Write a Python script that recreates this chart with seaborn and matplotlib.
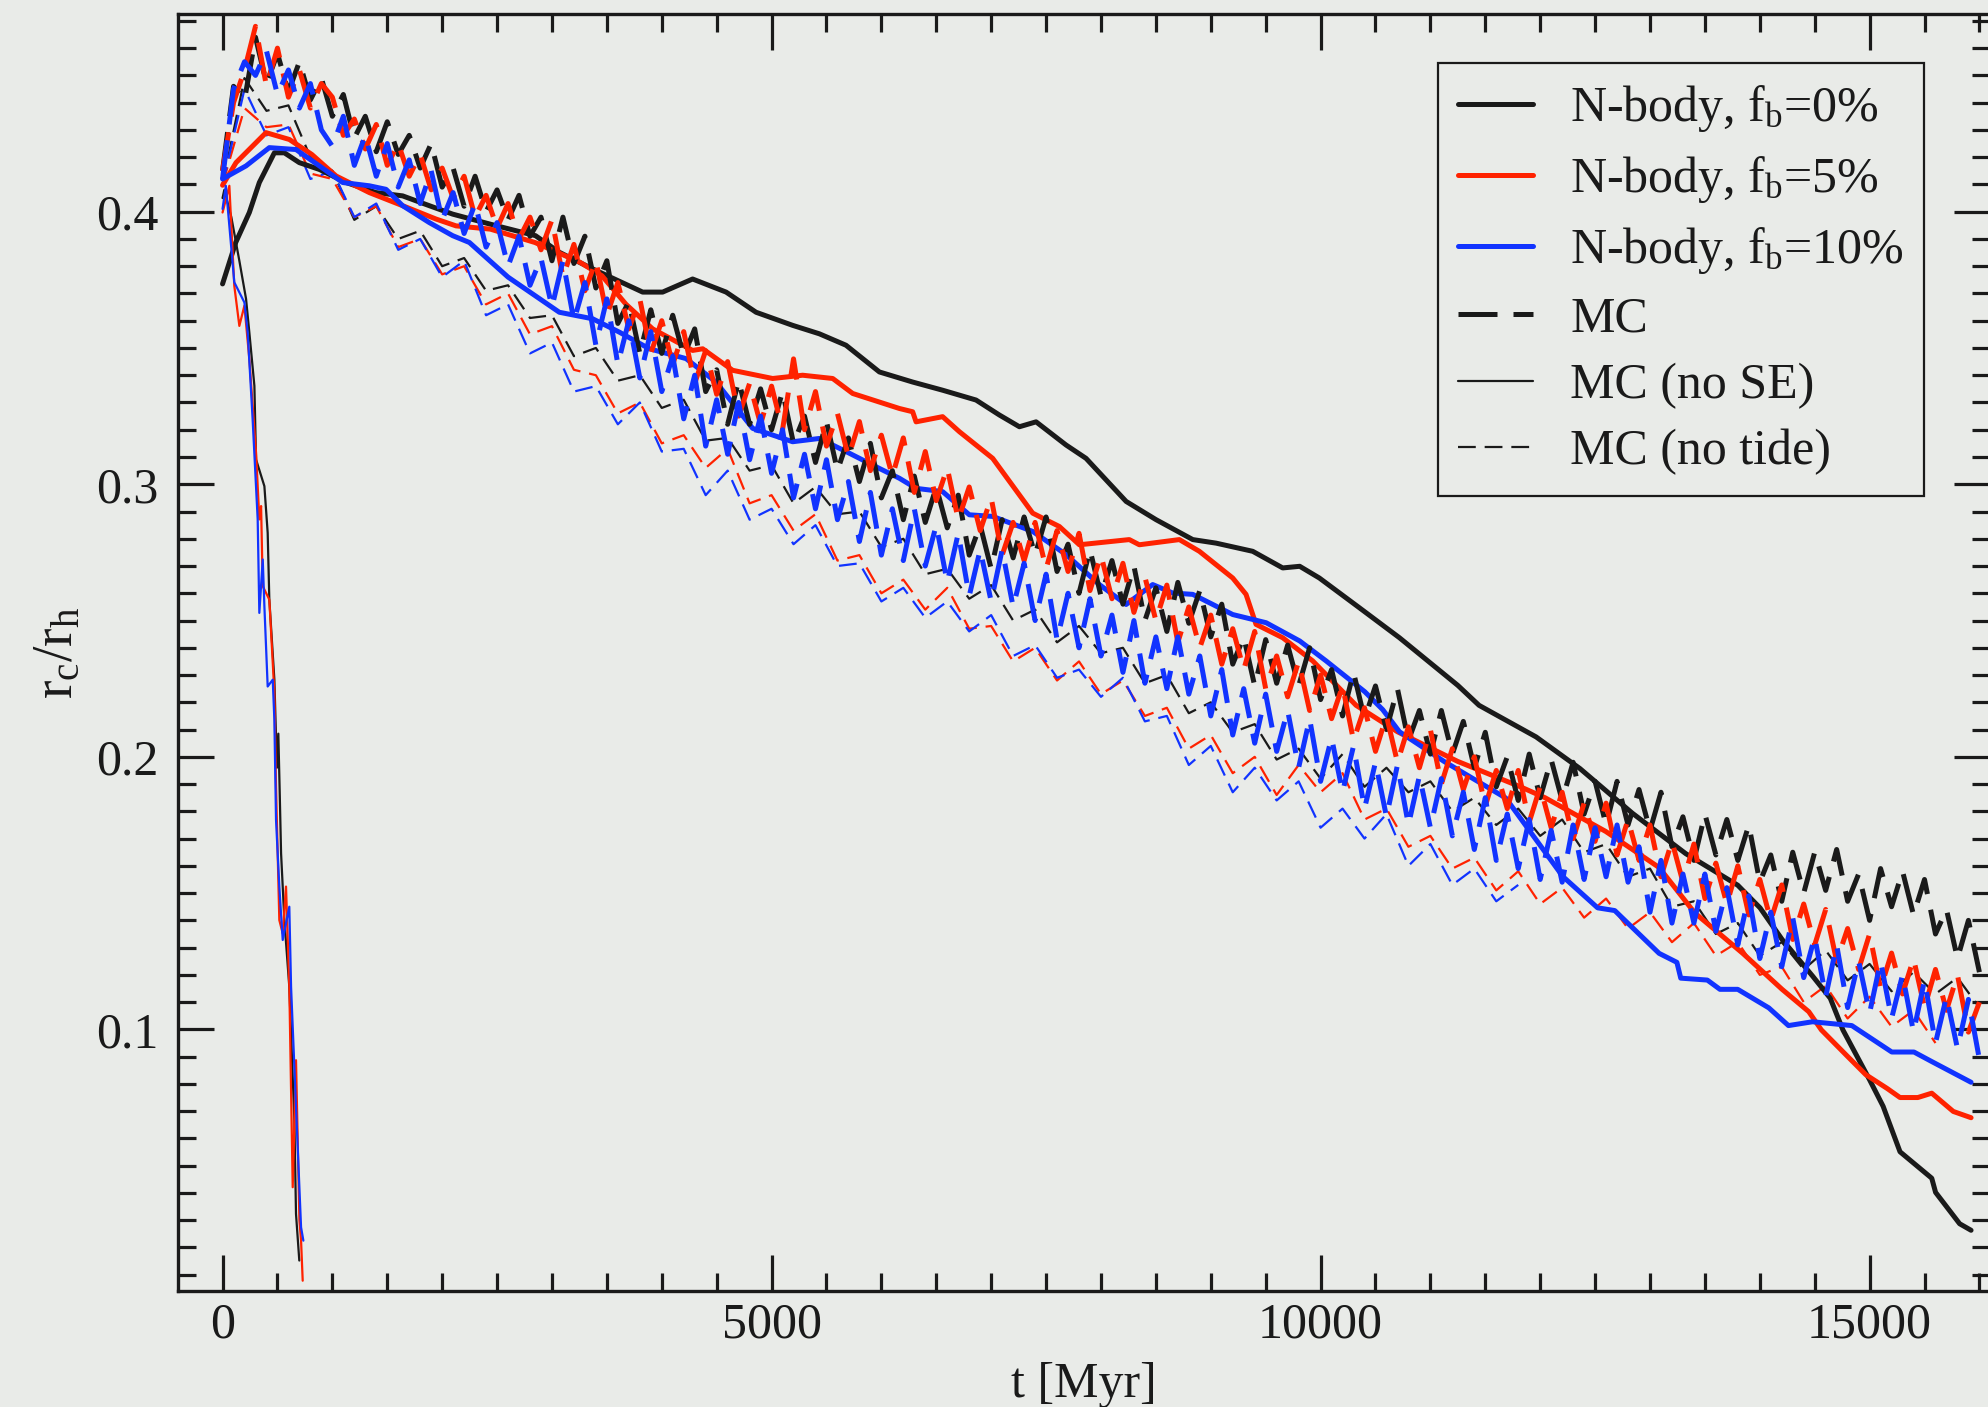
import numpy as np
import matplotlib
matplotlib.use('Agg')
import matplotlib.pyplot as plt
from matplotlib.lines import Line2D
from matplotlib.ticker import MultipleLocator
import seaborn as sns

# N-body runs: time [Myr] and r_c/r_h
nb0_t = [0, 120, 244, 335, 472, 563, 699, 882, 1125, 1398,
         1640, 1883, 2096, 2440, 2850, 3067, 3371, 3826, 4008, 4281,
         4586, 4859, 5192, 5435, 5678, 5982, 6285, 6558, 6862, 7075,
         7257, 7409, 7682, 7864, 8229, 8502, 8836, 9048, 9382, 9655,
         9810, 9989, 10353, 10718, 11250, 11443, 11963, 12362, 12840, 13325,
         13799, 14002, 14203, 14480, 14642, 14757, 15000, 15123, 15277, 15566,
         15601, 15820, 15924]
nb0_r = [0.3735, 0.3887, 0.3997, 0.4107, 0.4216, 0.4216, 0.418, 0.4155, 0.4107, 0.407,
         0.4058, 0.4022, 0.3991, 0.3954, 0.3912, 0.3851, 0.379, 0.3705, 0.3705, 0.3753,
         0.3705, 0.3631, 0.3583, 0.3552, 0.351, 0.3412, 0.3375, 0.3345, 0.3309, 0.3254,
         0.3211, 0.3229, 0.3144, 0.3095, 0.2937, 0.287, 0.2797, 0.2784, 0.2754, 0.2693,
         0.2699, 0.2656, 0.2547, 0.2437, 0.2262, 0.2189, 0.2073, 0.1957, 0.1793, 0.1645,
         0.1529, 0.1446, 0.133, 0.1196, 0.1114, 0.0998, 0.0815, 0.0718, 0.0551, 0.0454,
         0.0402, 0.0287, 0.0263]

nb5_t = [0, 123, 396, 608, 813, 1034, 1337, 1640, 1944, 2126,
         2439, 2845, 3252, 3455, 3675, 3917, 4281, 4373, 4646, 5010,
         5283, 5557, 5739, 6164, 6285, 6316, 6558, 6710, 7014, 7378,
         7621, 7803, 8258, 8349, 8714, 8896, 9200, 9321, 9412, 9655,
         9928, 10323, 10700, 11250, 11820, 12044, 12598, 13083, 13406, 13845,
         14203, 14446, 14561, 14804, 14965, 15161, 15277, 15439, 15566, 15762,
         15924]
nb5_r = [0.4097, 0.418, 0.429, 0.4265, 0.421, 0.4131, 0.407, 0.4022, 0.3973, 0.3948,
         0.3936, 0.3887, 0.3815, 0.3765, 0.366, 0.357, 0.3491, 0.3497, 0.3418, 0.3388,
         0.34, 0.3388, 0.3333, 0.3278, 0.3266, 0.3229, 0.3248, 0.3193, 0.3095, 0.2894,
         0.2845, 0.2778, 0.2797, 0.2778, 0.2797, 0.2754, 0.2656, 0.2596, 0.2486, 0.2437,
         0.2352, 0.2189, 0.2092, 0.1983, 0.189, 0.185, 0.1726, 0.1594, 0.1428, 0.1279,
         0.1147, 0.1065, 0.0998, 0.0899, 0.0834, 0.0783, 0.075, 0.075, 0.0766, 0.0699,
         0.0676]

nb10_t = [0, 214, 426, 669, 882, 1094, 1337, 1489, 1640, 1883,
          2096, 2248, 2600, 3067, 3371, 3614, 3887, 4221, 4494, 4828,
          5192, 5435, 5678, 5982, 6164, 6316, 6558, 6801, 7014, 7378,
          7682, 7985, 8229, 8471, 8653, 8836, 9200, 9504, 9810, 10050,
          10402, 10566, 10718, 11125, 11686, 12206, 12523, 12679, 13083, 13245,
          13280, 13522, 13637, 13799, 14082, 14261, 14480, 14838, 15202, 15404,
          15566, 15924]
nb10_r = [0.412, 0.4168, 0.4235, 0.4228, 0.4168, 0.4107, 0.4095, 0.4082, 0.4022, 0.396,
          0.3912, 0.3887, 0.376, 0.3631, 0.3607, 0.3558, 0.3497, 0.3461, 0.3375, 0.3205,
          0.3156, 0.3168, 0.312, 0.3058, 0.3022, 0.2985, 0.2973, 0.2888, 0.2882, 0.2827,
          0.2742, 0.2632, 0.2559, 0.2632, 0.2601, 0.2596, 0.2522, 0.2492, 0.2425, 0.2352,
          0.2239, 0.2173, 0.2092, 0.1983, 0.1849, 0.1561, 0.1446, 0.1436, 0.1279, 0.1246,
          0.1188, 0.1181, 0.1147, 0.1147, 0.1079, 0.1014, 0.1028, 0.1014, 0.0917, 0.0917,
          0.0882, 0.0806]

# MC runs, one snapshot every 100 Myr (0 ... 16000)
t_mc = np.arange(0, 16001, 100)

mc0 = [0.415, 0.446, 0.441, 0.464, 0.447, 0.458, 0.444, 0.455, 0.441, 0.449,
       0.435, 0.443, 0.427, 0.435, 0.422, 0.433, 0.421, 0.428, 0.416, 0.425,
       0.409, 0.416, 0.402, 0.413, 0.400, 0.408, 0.397, 0.406, 0.391, 0.398,
       0.382, 0.398, 0.381, 0.391, 0.372, 0.382, 0.359, 0.367, 0.348, 0.364,
       0.348, 0.362, 0.347, 0.357, 0.334, 0.342, 0.322, 0.338, 0.322, 0.335,
       0.320, 0.334, 0.315, 0.325, 0.308, 0.323, 0.305, 0.317, 0.301, 0.315,
       0.295, 0.305, 0.287, 0.303, 0.286, 0.299, 0.284, 0.296, 0.274, 0.285,
       0.269, 0.287, 0.273, 0.288, 0.274, 0.288, 0.268, 0.278, 0.260, 0.276,
       0.259, 0.272, 0.256, 0.270, 0.250, 0.262, 0.246, 0.264, 0.249, 0.261,
       0.244, 0.256, 0.234, 0.244, 0.226, 0.243, 0.227, 0.241, 0.226, 0.240,
       0.221, 0.232, 0.215, 0.231, 0.214, 0.226, 0.210, 0.225, 0.206, 0.217,
       0.201, 0.217, 0.201, 0.213, 0.196, 0.209, 0.189, 0.200, 0.184, 0.201,
       0.185, 0.199, 0.184, 0.198, 0.179, 0.191, 0.175, 0.191, 0.175, 0.188,
       0.173, 0.187, 0.167, 0.178, 0.162, 0.179, 0.164, 0.177, 0.162, 0.175,
       0.154, 0.164, 0.147, 0.165, 0.150, 0.165, 0.151, 0.166, 0.147, 0.157,
       0.140, 0.159, 0.145, 0.158, 0.142, 0.155, 0.135, 0.144, 0.126, 0.140,
       0.121]
mc5 = [0.415, 0.440, 0.452, 0.468, 0.446, 0.460, 0.442, 0.452, 0.438, 0.447,
       0.442, 0.428, 0.434, 0.423, 0.432, 0.417, 0.425, 0.413, 0.421, 0.408,
       0.416, 0.405, 0.413, 0.398, 0.406, 0.394, 0.403, 0.390, 0.398, 0.386,
       0.397, 0.376, 0.388, 0.371, 0.382, 0.362, 0.374, 0.357, 0.368, 0.348,
       0.360, 0.344, 0.356, 0.337, 0.349, 0.333, 0.345, 0.325, 0.337, 0.322,
       0.336, 0.320, 0.346, 0.320, 0.334, 0.314, 0.326, 0.310, 0.323, 0.305,
       0.318, 0.303, 0.317, 0.297, 0.312, 0.294, 0.306, 0.287, 0.299, 0.283,
       0.295, 0.274, 0.286, 0.272, 0.286, 0.269, 0.283, 0.268, 0.282, 0.261,
       0.274, 0.258, 0.271, 0.253, 0.266, 0.250, 0.263, 0.242, 0.255, 0.240,
       0.252, 0.234, 0.247, 0.232, 0.246, 0.225, 0.237, 0.222, 0.235, 0.217,
       0.230, 0.214, 0.226, 0.206, 0.218, 0.202, 0.215, 0.198, 0.211, 0.196,
       0.210, 0.190, 0.203, 0.188, 0.200, 0.182, 0.195, 0.181, 0.195, 0.176,
       0.189, 0.174, 0.187, 0.170, 0.183, 0.169, 0.183, 0.164, 0.177, 0.162,
       0.175, 0.156, 0.169, 0.154, 0.168, 0.148, 0.161, 0.146, 0.160, 0.142,
       0.155, 0.140, 0.153, 0.133, 0.146, 0.131, 0.144, 0.125, 0.137, 0.122,
       0.135, 0.115, 0.128, 0.113, 0.126, 0.108, 0.122, 0.107, 0.120, 0.099,
       0.110]
mc10 = [0.412, 0.445, 0.455, 0.450, 0.459, 0.443, 0.452, 0.438, 0.447, 0.430,
        0.424, 0.435, 0.417, 0.428, 0.413, 0.425, 0.409, 0.419, 0.403, 0.415,
        0.397, 0.407, 0.392, 0.403, 0.387, 0.396, 0.380, 0.391, 0.373, 0.383,
        0.365, 0.382, 0.360, 0.374, 0.351, 0.368, 0.344, 0.360, 0.339, 0.356,
        0.334, 0.347, 0.324, 0.340, 0.314, 0.331, 0.311, 0.330, 0.309, 0.325,
        0.304, 0.320, 0.295, 0.311, 0.291, 0.309, 0.287, 0.301, 0.279, 0.297,
        0.274, 0.291, 0.272, 0.291, 0.270, 0.285, 0.264, 0.282, 0.259, 0.276,
        0.257, 0.276, 0.255, 0.271, 0.250, 0.267, 0.243, 0.260, 0.240, 0.258,
        0.237, 0.252, 0.231, 0.250, 0.227, 0.244, 0.225, 0.244, 0.223, 0.237,
        0.215, 0.232, 0.208, 0.225, 0.205, 0.223, 0.202, 0.217, 0.196, 0.214,
        0.191, 0.207, 0.187, 0.204, 0.181, 0.198, 0.178, 0.197, 0.175, 0.193,
        0.174, 0.192, 0.171, 0.187, 0.166, 0.185, 0.162, 0.179, 0.159, 0.177,
        0.155, 0.173, 0.154, 0.175, 0.155, 0.174, 0.156, 0.175, 0.154, 0.167,
        0.143, 0.162, 0.139, 0.157, 0.139, 0.157, 0.136, 0.152, 0.131, 0.149,
        0.126, 0.143, 0.123, 0.141, 0.119, 0.134, 0.112, 0.131, 0.108, 0.125,
        0.106, 0.125, 0.104, 0.120, 0.099, 0.118, 0.095, 0.112, 0.093, 0.111,
        0.089]

# MC without tidal field, one snapshot every 200 Myr
t_nt = np.arange(0, 16001, 200)
notide0 = [0.410, 0.449, 0.437, 0.439, 0.420, 0.415, 0.397, 0.402, 0.390, 0.393,
           0.380, 0.383, 0.371, 0.373, 0.361, 0.362, 0.347, 0.350, 0.338, 0.340,
           0.328, 0.331, 0.316, 0.317, 0.305, 0.307, 0.293, 0.299, 0.289, 0.290,
           0.277, 0.280, 0.267, 0.269, 0.258, 0.263, 0.250, 0.254, 0.242, 0.248,
           0.238, 0.240, 0.227, 0.230, 0.216, 0.220, 0.209, 0.212, 0.199, 0.203,
           0.192, 0.201, 0.189, 0.196, 0.187, 0.191, 0.180, 0.185, 0.175, 0.181,
           0.171, 0.177, 0.165, 0.168, 0.156, 0.159, 0.145, 0.147, 0.135, 0.139,
           0.127, 0.132, 0.122, 0.129, 0.118, 0.124, 0.114, 0.121, 0.113, 0.119,
           0.108]
notide5 = [0.410, 0.438, 0.431, 0.432, 0.414, 0.412, 0.398, 0.402, 0.387, 0.390,
           0.377, 0.380, 0.366, 0.370, 0.355, 0.358, 0.342, 0.340, 0.326, 0.330,
           0.315, 0.318, 0.306, 0.313, 0.293, 0.296, 0.283, 0.289, 0.272, 0.274,
           0.260, 0.265, 0.254, 0.262, 0.247, 0.248, 0.235, 0.240, 0.228, 0.235,
           0.223, 0.228, 0.215, 0.218, 0.203, 0.208, 0.194, 0.200, 0.186, 0.197,
           0.187, 0.194, 0.177, 0.181, 0.167, 0.171, 0.159, 0.163, 0.151, 0.158,
           0.146, 0.152, 0.141, 0.148, 0.137, 0.143, 0.132, 0.139, 0.127, 0.132,
           0.120, 0.123, 0.110, 0.116, 0.104, 0.112, 0.101, 0.107, 0.095]
notide10 = [0.410, 0.445, 0.428, 0.431, 0.412, 0.415, 0.398, 0.403, 0.386, 0.390,
            0.376, 0.382, 0.362, 0.366, 0.348, 0.352, 0.334, 0.336, 0.322, 0.330,
            0.312, 0.313, 0.296, 0.305, 0.287, 0.291, 0.278, 0.285, 0.270, 0.271,
            0.257, 0.262, 0.251, 0.257, 0.246, 0.252, 0.237, 0.241, 0.229, 0.232,
            0.222, 0.229, 0.213, 0.215, 0.197, 0.204, 0.187, 0.196, 0.184, 0.191,
            0.174, 0.181, 0.170, 0.179, 0.160, 0.168, 0.153, 0.159, 0.147, 0.153]

# MC without stellar evolution: core collapse within the first Gyr
nose0_t = [0, 16, 80, 153, 214, 244, 290, 305, 381, 411,
           426, 472, 495, 508, 520, 533, 563, 608, 654, 669, 699]
nose0_r = [0.405, 0.408, 0.398, 0.382, 0.368, 0.3557, 0.3361, 0.3091, 0.2993, 0.2822,
           0.2577, 0.2283, 0.196, 0.2085, 0.188, 0.1646, 0.1401, 0.1156, 0.0667, 0.0323, 0.0152]
nose5_t = [0, 62, 107, 153, 199, 244, 305, 335, 351, 366,
           426, 472, 487, 517, 548, 578, 608, 639, 669, 700, 715, 730]
nose5_r = [0.3997, 0.4095, 0.3728, 0.3581, 0.3655, 0.3459, 0.3116, 0.2871, 0.292, 0.2626,
           0.2577, 0.2235, 0.1891, 0.1401, 0.1352, 0.1524, 0.1156, 0.0421, 0.0887, 0.030, 0.0225, 0.0078]
nose10_t = [0, 30, 107, 199, 229, 274, 320, 335, 366, 381,
            411, 457, 472, 487, 517, 548, 608, 624, 669, 715, 736]
nose10_r = [0.401, 0.4095, 0.3741, 0.3667, 0.3557, 0.3238, 0.2871, 0.2528, 0.2724, 0.2553,
            0.2258, 0.2283, 0.2136, 0.1769, 0.1524, 0.1328, 0.145, 0.1156, 0.0715, 0.0274, 0.0225]

RED = '#ff2200'
BLUE = '#1133ff'
BG = '#e9ebe8'
THICK = 3.6
THIN = 1.6
DASH_MC = (0, (7.8, 3.2))
DASH_NT = (0, (8, 4))

sns.set_theme(style='ticks')
plt.rcParams['font.family'] = ['Liberation Serif', 'DejaVu Serif']
plt.rcParams['mathtext.fontset'] = 'custom'
plt.rcParams['mathtext.rm'] = 'Liberation Serif'
plt.rcParams['mathtext.it'] = 'Liberation Serif:italic'

fig = plt.figure(figsize=(19.88, 14.07), dpi=100, facecolor=BG)
ax = fig.add_axes([0.0893, 0.0824, 0.9119, 0.9076])
ax.set_facecolor(BG)


def draw(t, r, color, lw, ls='-'):
    sns.lineplot(x=list(t), y=list(r), color=color, linewidth=lw, linestyle=ls,
                 estimator=None, sort=False, ax=ax)


for r, c in [(notide0, 'k'), (notide5, RED), (notide10, BLUE)]:
    draw(t_nt[:len(r)], r, c, THIN, DASH_NT)

draw(nb0_t, nb0_r, 'k', THICK)
draw(nb5_t, nb5_r, RED, THICK)
draw(nb10_t, nb10_r, BLUE, THICK)

for r, c in [(mc0, 'k'), (mc5, RED), (mc10, BLUE)]:
    draw(t_mc[:len(r)], r, c, THICK, DASH_MC)

draw(nose0_t, nose0_r, 'k', THIN)
draw(nose5_t, nose5_r, RED, THIN)
draw(nose10_t, nose10_r, BLUE, THIN)

ax.set_xlim(-410, 16100)
ax.set_ylim(0.004, 0.4725)
ax.xaxis.set_major_locator(MultipleLocator(5000))
ax.xaxis.set_minor_locator(MultipleLocator(500))
ax.yaxis.set_major_locator(MultipleLocator(0.1))
ax.yaxis.set_minor_locator(MultipleLocator(0.01))
ax.tick_params(which='both', direction='in', top=True, right=True,
               width=2.3, color='k', labelsize=36, labelcolor='k')
ax.tick_params(which='major', length=26)
ax.tick_params(which='minor', length=13)
ax.tick_params(axis='x', pad=8)
ax.tick_params(axis='y', pad=14)
for s in ax.spines.values():
    s.set_linewidth(2.4)
    s.set_color('k')

ax.set_xlabel('t [Myr]', fontsize=36, color='k', labelpad=9)
ax.set_ylabel(r'r$_\mathrm{c}$/r$_\mathrm{h}$', fontsize=40, color='k', labelpad=8)

handles = [
    Line2D([], [], color='k', lw=THICK),
    Line2D([], [], color=RED, lw=THICK),
    Line2D([], [], color=BLUE, lw=THICK),
    Line2D([], [], color='k', lw=THICK, ls=DASH_MC),
    Line2D([], [], color='k', lw=THIN),
    Line2D([], [], color='k', lw=THIN, ls=DASH_NT),
]
labels = [r'N-body, f$_\mathrm{b}$=0%', r'N-body, f$_\mathrm{b}$=5%',
          r'N-body, f$_\mathrm{b}$=10%', 'MC', 'MC (no SE)', 'MC (no tide)']
leg = ax.legend(handles, labels, loc='upper right', bbox_to_anchor=(0.9634, 0.9616),
                borderaxespad=0, fontsize=36, frameon=True, fancybox=False,
                edgecolor='k', facecolor=BG, framealpha=1, handlelength=1.5,
                handletextpad=0.75, labelspacing=0.4, borderpad=0.4)
leg.get_frame().set_linewidth(1.6)
for txt in leg.get_texts():
    txt.set_color('k')

fig.savefig('out.png', dpi=100, facecolor=BG)
